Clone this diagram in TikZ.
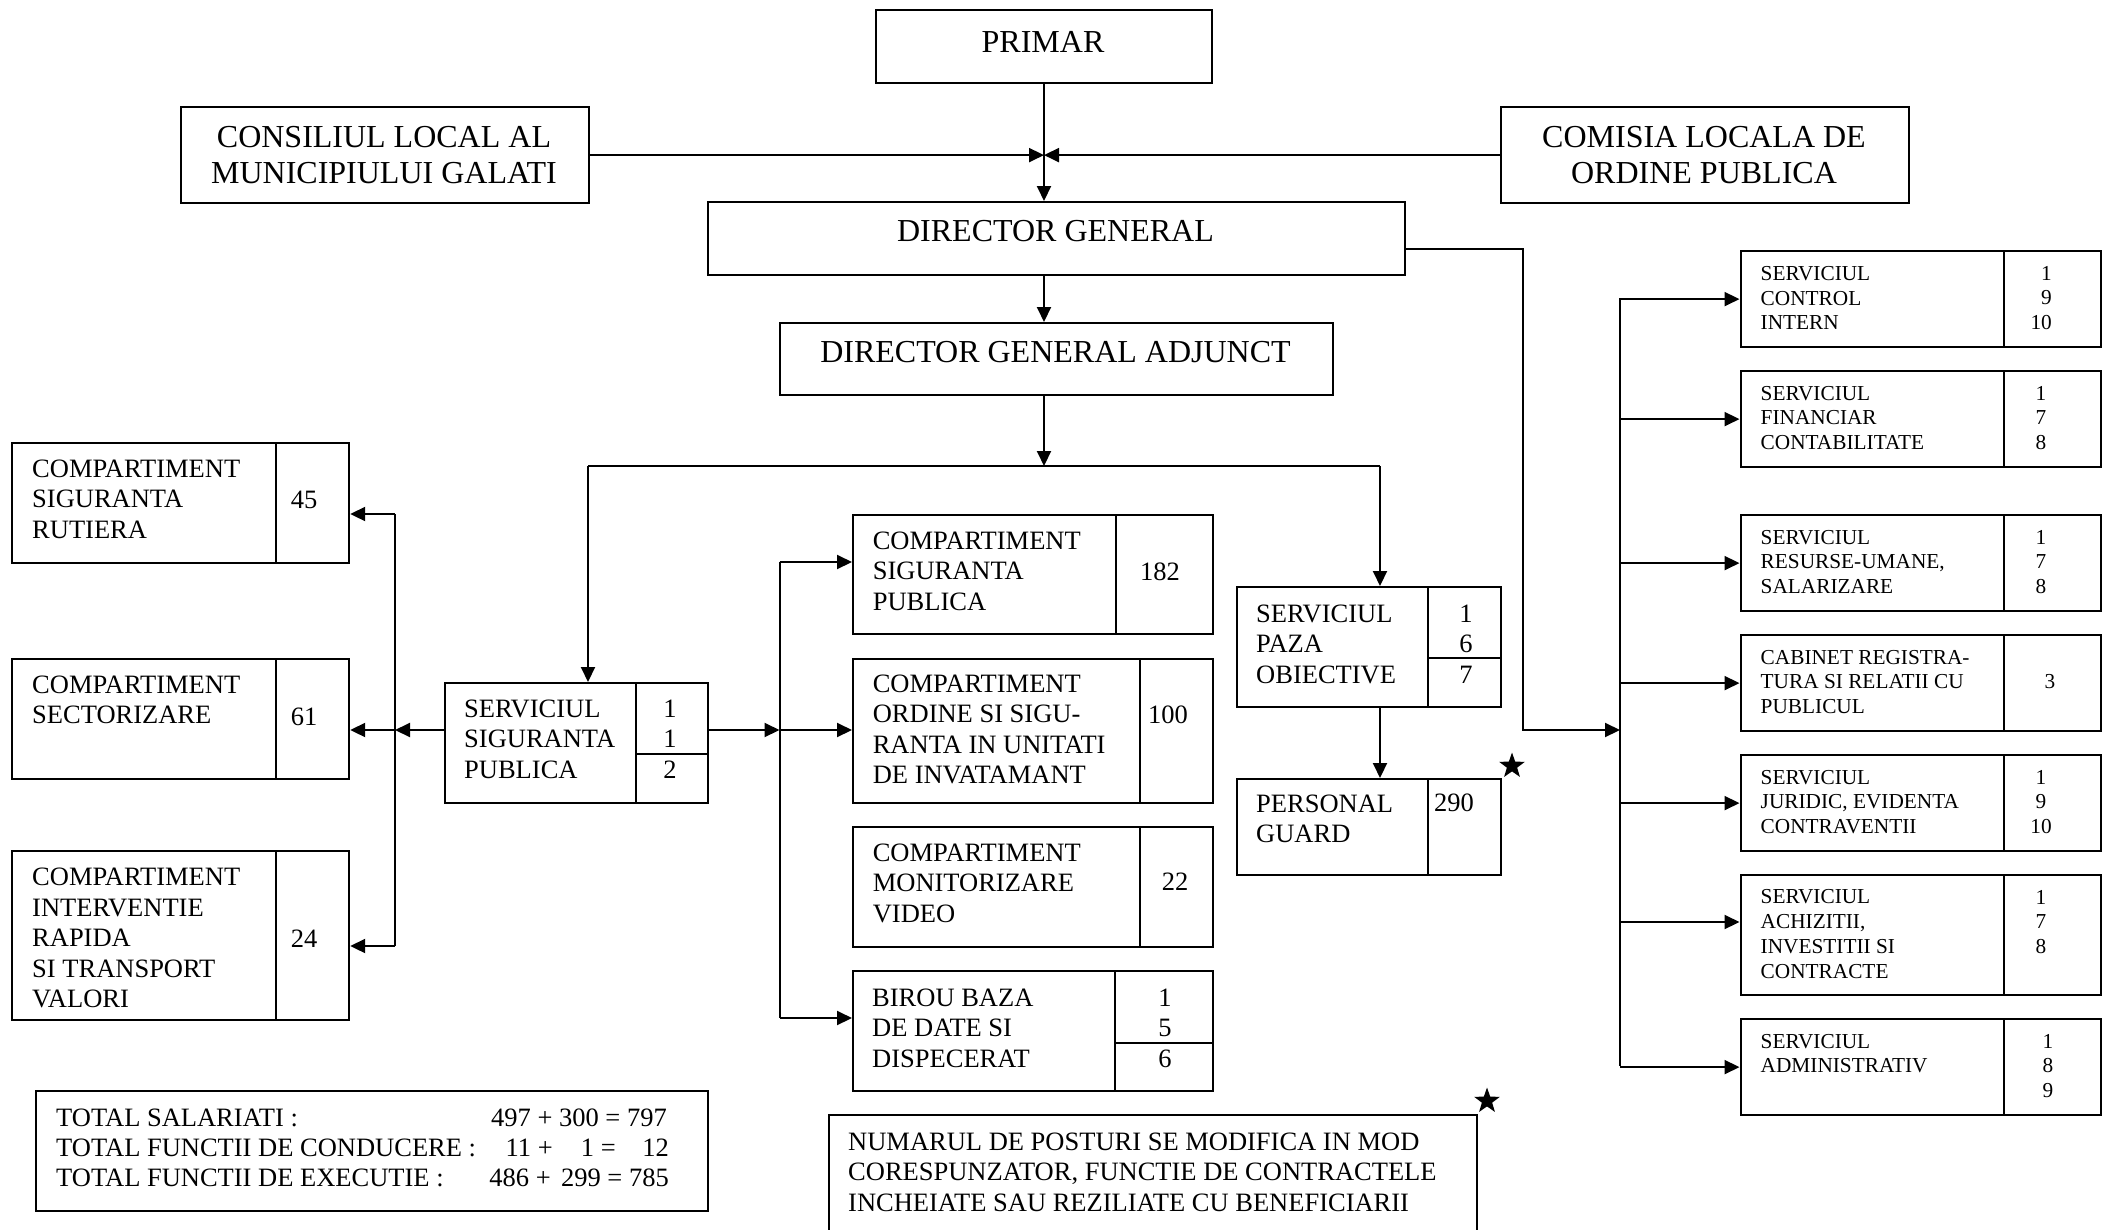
\documentclass[tikz,border=0pt]{standalone}
\usepackage{fontspec}
\setmainfont{Liberation Serif}
\usetikzlibrary{arrows.meta,shapes.geometric}
\newcommand\fntL{\fontsize{32}{36.6}\selectfont}
\newcommand\fntM{\fontsize{26.5}{30.5}\selectfont}
\newcommand\fntS{\fontsize{21.3}{24.8}\selectfont}
\newcommand\mkbox[5]{%
  \pgfmathsetmacro\mkbW{#4-#2}\pgfmathsetmacro\mkbH{#5-#3}%
  \node[boxst, minimum width=\mkbW pt, minimum height=\mkbH pt, anchor=north west] (#1) at (#2,#3) {};}
\begin{document}
\begin{tikzpicture}[x=1pt,y=-1pt,
  boxst/.style={draw, line width=2.2pt, inner sep=0, rectangle},
  divst/.style={line width=2pt},
  linest/.style={line width=2pt},
  arr/.style={line width=2pt, -{Triangle[length=15pt,width=14pt]}},
  txtL/.style={inner sep=0, font=\fntL, align=center},
  txtM/.style={inner sep=0, font=\fntM, align=left, anchor=west},
  txtS/.style={inner sep=0, font=\fntS, align=left, anchor=west},
  numM/.style={inner sep=0, font=\fntM, align=center},
  numS/.style={inner sep=0, font=\fntS, align=center},
  lineM/.style={inner sep=0, font=\fntM},
  starst/.style={star, star points=5, star point ratio=2.5, fill=black, inner sep=0, minimum size=27pt}]
\fill[white] (0,0) rectangle (2112,1229);
\useasboundingbox (0,0) rectangle (2112,1229);

% ---------- boxes ----------
\mkbox{primar}{875}{9}{1211}{82}
\mkbox{consiliul}{180}{106}{588}{202}
\mkbox{comisia}{1500}{106}{1908}{202}
\mkbox{dg}{707}{201}{1404}{274}
\mkbox{dga}{779}{322}{1332}{394}
\mkbox{csr}{11}{442}{348}{562}
\mkbox{csec}{11}{658}{348}{778}
\mkbox{cir}{11}{850}{348}{1019}
\mkbox{ssp}{443.5}{682}{707}{802}
\mkbox{csp}{852}{514}{1211.5}{633}
\mkbox{cord}{852}{658}{1211.5}{802}
\mkbox{cmon}{852}{826}{1211.5}{946}
\mkbox{birou}{852}{970}{1211.5}{1090}
\mkbox{paza}{1236}{586}{1500}{706}
\mkbox{guard}{1236}{778}{1500}{874}
\mkbox{total}{35}{1090}{707}{1210}
\mkbox{numarul}{827.5}{1114}{1475.6}{1234}
\mkbox{rA}{1739.5}{250}{2100}{346}
\mkbox{rB}{1739.5}{370}{2100}{466}
\mkbox{rC}{1739.5}{514}{2100}{610}
\mkbox{rD}{1739.5}{634}{2100}{730}
\mkbox{rE}{1739.5}{754}{2100}{850}
\mkbox{rF}{1739.5}{874}{2100}{994}
\mkbox{rG}{1739.5}{1018}{2100}{1114}

% ---------- column dividers ----------
\foreach \yy/\yb in {442/562, 658/778, 850/1019}
  \draw[divst] (275.5,\yy) -- (275.5,\yb);
\draw[divst] (636,682) -- (636,802);
\draw[divst] (636,754) -- (707,754);
\draw[divst] (1116,514) -- (1116,633);
\draw[divst] (1140,658) -- (1140,802);
\draw[divst] (1140,826) -- (1140,946);
\draw[divst] (1115,970) -- (1115,1090);
\draw[divst] (1115,1043) -- (1211.5,1043);
\draw[divst] (1428,586) -- (1428,706);
\draw[divst] (1428,658) -- (1500,658);
\draw[divst] (1428,778) -- (1428,874);
\foreach \yy/\yb in {250/346, 370/466, 514/610, 634/730, 754/850, 874/994, 1018/1114}
  \draw[divst] (2004,\yy) -- (2004,\yb);

% ---------- texts ----------
\node[txtL] (tprimar) at (1043,41.7) {PRIMAR};
\node[txtL] (tcons) at (384,155) {CONSILIUL LOCAL AL\\MUNICIPIULUI GALATI};
\node[txtL] (tcom) at (1704,155) {COMISIA LOCALA DE\\ORDINE PUBLICA};
\node[txtL] (tdg) at (1055.5,231) {DIRECTOR GENERAL};
\node[txtL] (tdga) at (1055.5,352) {DIRECTOR GENERAL ADJUNCT};

\node[txtM] (tcsr) at (32,499) {COMPARTIMENT\\SIGURANTA\\RUTIERA};
\node[numM] (ncsr) at (304,500) {45};
\node[txtM] (tcsec) at (32,700) {COMPARTIMENT\\SECTORIZARE};
\node[numM] (ncsec) at (304,717) {61};
\node[txtM] (tcir) at (32,938) {COMPARTIMENT\\INTERVENTIE\\RAPIDA\\SI TRANSPORT\\VALORI};
\node[numM] (ncir) at (304,939) {24};

\node[txtM] (tssp) at (464,739) {SERVICIUL\\SIGURANTA\\PUBLICA};
\node[numM] (nssp) at (670,739) {1\\1\\2};

\node[txtM] (tcsp) at (872.6,571) {COMPARTIMENT\\SIGURANTA\\PUBLICA};
\node[numM] (ncsp) at (1160,572) {182};
\node[txtM] (tcord) at (872.6,729.5) {COMPARTIMENT\\ORDINE SI SIGU-\\RANTA IN UNITATI\\DE INVATAMANT};
\node[numM] (ncord) at (1168,715) {100};
\node[txtM] (tcmon) at (872.6,883) {COMPARTIMENT\\MONITORIZARE\\VIDEO};
\node[numM] (ncmon) at (1175,882) {22};
\node[txtM] (tbirou) at (872,1028) {BIROU BAZA\\DE DATE SI\\DISPECERAT};
\node[numM] (nbirou) at (1165,1028) {1\\5\\6};

\node[txtM] (tpaza) at (1256,644) {SERVICIUL\\PAZA\\OBIECTIVE};
\node[numM] (npaza) at (1466,644) {1\\6\\7};
\node[txtM] (tguard) at (1256,819) {PERSONAL\\GUARD};
\node[numM] (nguard) at (1454,803) {290};

\node[txtS] (trA) at (1760.5,298) {SERVICIUL\\CONTROL\\INTERN};
\node[numS, align=right, anchor=east] (nrA) at (2052,298) {1\\9\\10};
\node[txtS] (trB) at (1760.5,418) {SERVICIUL\\FINANCIAR\\CONTABILITATE};
\node[numS] (nrB) at (2041,418) {1\\7\\8};
\node[txtS] (trC) at (1760.5,562) {SERVICIUL\\RESURSE-UMANE,\\SALARIZARE};
\node[numS] (nrC) at (2041,562) {1\\7\\8};
\node[txtS] (trD) at (1760.5,682) {CABINET REGISTRA-\\TURA SI RELATII CU\\PUBLICUL};
\node[numS] (nrD) at (2050,682) {3};
\node[txtS] (trE) at (1760.5,802) {SERVICIUL\\JURIDIC, EVIDENTA\\CONTRAVENTII};
\node[numS] (nrE) at (2041,802) {1\\9\\10};
\node[txtS] (trF) at (1760.5,934) {SERVICIUL\\ACHIZITII,\\INVESTITII SI\\CONTRACTE};
\node[numS] (nrF) at (2041,922) {1\\7\\8};
\node[txtS] (trG) at (1760.5,1053.5) {SERVICIUL\\ADMINISTRATIV};
\node[numS] (nrG) at (2048,1066) {1\\8\\9};

\node[lineM, anchor=base west] (ta1) at (56,1126.8) {TOTAL SALARIATI :};
\node[lineM, anchor=base east] (ta2) at (667,1126.8) {497 + 300 = 797};
\node[lineM, anchor=base west] (tb1) at (56,1156.8) {TOTAL FUNCTII DE CONDUCERE :};
\node[lineM, anchor=base east] (tb2) at (553,1156.8) {11 +};
\node[lineM, anchor=base east] (tb3) at (616,1156.8) {1 =};
\node[lineM, anchor=base east] (tb4) at (669,1156.8) {12};
\node[lineM, anchor=base west] (tc1) at (56,1186.8) {TOTAL FUNCTII DE EXECUTIE :};
\node[lineM, anchor=base east] (tc2) at (551,1186.8) {486 +};
\node[lineM, anchor=base east] (tc3) at (669,1186.8) {299 = 785};

\node[txtM] (tnum) at (848,1172) {NUMARUL DE POSTURI SE MODIFICA IN MOD\\CORESPUNZATOR, FUNCTIE DE CONTRACTELE\\INCHEIATE SAU REZILIATE CU BENEFICIARII};

\node[starst] (st1) at (1512,766) {};
\node[starst] (st2) at (1487,1101) {};

% ---------- connector coordinates ----------
\coordinate (ax) at (1044,0);
\coordinate (hl) at (1044,466);
\coordinate (sspin) at (588,682);
\coordinate (pazain) at (1380,586);
\coordinate (lb1) at (395,514);
\coordinate (lb2) at (395,730);
\coordinate (lb3) at (395,946);
\coordinate (mb1) at (779.5,562);
\coordinate (mb2) at (779.5,730);
\coordinate (mb3) at (779.5,1018);
\coordinate (dgr) at (1523,249);
\coordinate (rbm) at (1620,730);
\coordinate (rb1) at (1620,298);
\coordinate (rb7) at (1620,1066);
\coordinate (rbF) at (1620,922);

% ---------- connectors ----------
\draw[arr] (primar.south -| ax) -- (dg.north -| ax);
\draw[arr] (consiliul.east) -- (consiliul.east -| ax);
\draw[arr] (comisia.west) -- (comisia.west -| ax);
\draw[arr] (dg.south -| ax) -- (dga.north -| ax);
\draw[arr] (dga.south -| ax) -- (hl);
\draw[linest] (sspin |- hl) -- (pazain |- hl);
\draw[arr] (sspin |- hl) -- (sspin);
\draw[arr] (pazain |- hl) -- (pazain);
\draw[arr] (pazain |- paza.south) -- (pazain |- guard.north);

\draw[linest] (lb1) -- (lb3);
\draw[arr] (ssp.west |- lb2) -- (lb2);
\draw[arr] (lb1) -- (csr.east |- lb1);
\draw[arr] (lb2) -- (csec.east |- lb2);
\draw[arr] (lb3) -- (cir.east |- lb3);

\draw[linest] (mb1) -- (mb3);
\draw[arr] (ssp.east |- mb2) -- (mb2);
\draw[arr] (mb1) -- (csp.west |- mb1);
\draw[arr] (mb2) -- (cord.west |- mb2);
\draw[arr] (mb3) -- (birou.west |- mb3);

\draw[arr] (dg.east |- dgr) -- (dgr) -- (dgr |- rbm) -- (rbm);
\draw[linest] (rb1) -- (rb7);
\draw[arr] (rb1 |- rA.west) -- (rA.west);
\draw[arr] (rb1 |- rB.west) -- (rB.west);
\draw[arr] (rb1 |- rC.west) -- (rC.west);
\draw[arr] (rb1 |- rD.west) -- (rD.west);
\draw[arr] (rb1 |- rE.west) -- (rE.west);
\draw[arr] (rbF) -- (rF.west |- rbF);
\draw[arr] (rb1 |- rG.west) -- (rG.west);
\end{tikzpicture}
\end{document}
